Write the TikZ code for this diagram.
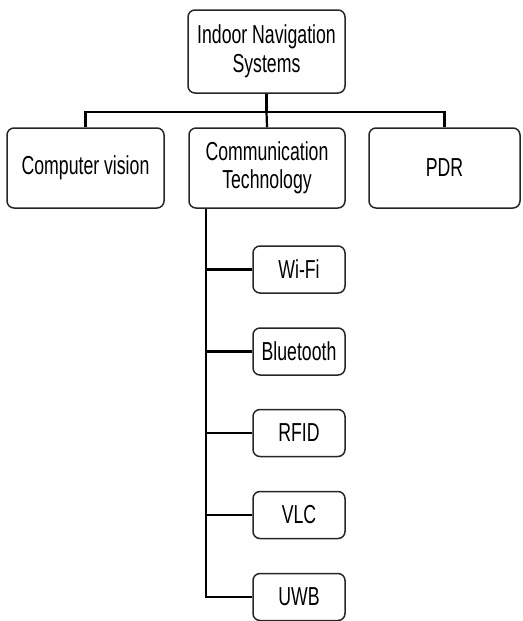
\documentclass[tikz,border=0pt]{standalone}
\usepackage{fontspec}
\setmainfont{Liberation Sans}[FakeStretch=0.68]
\usetikzlibrary{calc}
\begin{document}
\begin{tikzpicture}[x=1pt,y=-1pt,
  box/.style={draw=black!85, rounded corners=7pt, line width=1.5pt, align=center,
    font=\fontsize{26}{28.5}\selectfont, inner sep=0pt},
  link/.style={draw=black, line width=2.2pt}]
\useasboundingbox (0,0) rectangle (522,621);
\node[box, minimum width=157pt, minimum height=83pt] (root) at (266.5,51.5) {Indoor Navigation\\Systems};
\node[box, minimum width=157pt, minimum height=80pt] (cv) at (85.5,168) {Computer vision};
\node[box, minimum width=156pt, minimum height=80pt] (comm) at (267,168) {Communication\\Technology};
\node[box, minimum width=151pt, minimum height=80pt] (pdr) at (444.5,168) {PDR};
\node[box, minimum width=92pt, minimum height=47pt] (wifi) at (299,269.5) {Wi-Fi};
\node[box, minimum width=92pt, minimum height=47pt] (bt) at (299,351.5) {Bluetooth};
\node[box, minimum width=92pt, minimum height=47pt] (rfid) at (299,433) {RFID};
\node[box, minimum width=92pt, minimum height=47pt] (vlc) at (299,515) {VLC};
\node[box, minimum width=92pt, minimum height=47pt] (uwb) at (299,597) {UWB};
\coordinate (bus) at (266.5,112);
\coordinate (stem) at ($(comm.south west)+(18,0)$);
\draw[link] (root.south) -- (bus);
\draw[link] (cv.north) |- (bus) -| (pdr.north);
\draw[link] (bus) -- (comm.north);
\draw[link] (stem) |- (uwb.west);
\draw[link] (wifi.west) -- (wifi.west -| stem);
\draw[link] (bt.west) -- (bt.west -| stem);
\draw[link] (rfid.west) -- (rfid.west -| stem);
\draw[link] (vlc.west) -- (vlc.west -| stem);
\end{tikzpicture}
\end{document}
